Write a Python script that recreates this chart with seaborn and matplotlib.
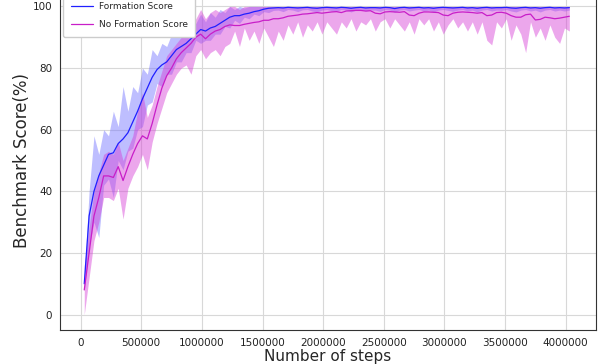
import numpy as np
import pandas as pd
import matplotlib
matplotlib.use('Agg')
import matplotlib.pyplot as plt
import seaborn as sns

# training steps (every 40000 steps)
steps = list(range(30000, 4030001, 40000))

# Formation Score: mean and band
form_mean = [10, 32, 40, 45, 48.5, 52, 52.5, 55.5, 57, 59,
             62.5, 66, 70, 73.5, 77, 79.5, 81, 82, 84, 86,
             87, 88, 89.5, 91, 92.5, 92, 93, 93.5, 94.5, 95.5,
             96.5, 97, 97, 97.5, 97.8, 98.3, 98.6, 99.1, 99.4, 99.5,
             99.6, 99.5, 99.7, 99.6, 99.5, 99.6, 99.7, 99.5, 99.4, 99.6,
             99.7, 99.6, 99.5, 99.7, 99.6, 99.4, 99.6, 99.7, 99.5, 99.6,
             99.6, 99.5, 99.7, 99.6, 99.3, 99.6, 99.7, 99.5, 99.6, 99.7,
             99.5, 99.6, 99.4, 99.6, 99.7, 99.6, 99.5, 99.6, 99.7, 99.5,
             99.6, 99.4, 99.6, 99.7, 99.5, 99.6, 99.6, 99.7, 99.5, 99.4,
             99.6, 99.7, 99.5, 99.6, 99.4, 99.6, 99.7, 99.5, 99.6, 99.5,
             99.6]
form_lo = [8, 22, 30, 25, 42, 44, 38, 50, 47, 53,
           54, 60, 61, 68, 69, 75, 74, 78, 78, 82,
           82, 85, 85, 89, 88, 89, 89, 91, 91, 93.5,
           93, 95.5, 94.5, 96.5, 96, 97.5, 97, 98.3, 98, 98.7,
           98.8, 98.3, 99, 98.8, 98.3, 98.9, 99, 98.5, 98.2, 98.8,
           99, 98.6, 98.4, 99, 98.8, 98.2, 98.8, 99, 98.5, 98.8,
           98.8, 98.4, 99, 98.8, 98.1, 98.8, 99, 98.5, 98.8, 99,
           98.5, 98.8, 98.2, 98.8, 99, 98.7, 98.4, 98.8, 99, 98.5,
           98.8, 98.2, 98.8, 99, 98.5, 98.8, 98.7, 99, 98.5, 98.2,
           98.8, 99, 98.5, 98.8, 98.2, 98.8, 99, 98.5, 98.8, 98.5,
           98.8]
form_hi = [12, 40, 58, 52, 60, 58, 66, 61, 74, 66,
           74, 72, 80, 78, 86, 84, 88, 87, 91, 90,
           93, 92, 95, 94.5, 97.5, 95, 98, 96.5, 99, 98,
           100, 99, 100, 99.5, 100, 100, 100, 100, 100, 100,
           100, 100, 100, 100, 100, 100, 100, 100, 100, 100,
           100, 100, 100, 100, 100, 100, 100, 100, 100, 100,
           100, 100, 100, 100, 100, 100, 100, 100, 100, 100,
           100, 100, 100, 100, 100, 100, 100, 100, 100, 100,
           100, 100, 100, 100, 100, 100, 100, 100, 100, 100,
           100, 100, 100, 100, 100, 100, 100, 100, 100, 100,
           100]

# No Formation Score: mean and band
noform_mean = [8, 20, 32, 38, 45, 45, 44.5, 48, 43.5, 48,
               52, 55.5, 58, 57, 62, 68, 73.5, 77.5, 80, 83,
               85, 86.5, 88, 90, 91, 89.5, 91, 92, 92.5, 93.5,
               94, 93.8, 93.8, 94.2, 94.5, 94.8, 95, 95.5, 95.5, 96,
               96, 96.3, 96.8, 97, 97.2, 97.5, 97.6, 97.8, 98, 97.8,
               98, 98.2, 98.3, 98, 98.5, 98.6, 98.7, 98.7, 98.5, 98.6,
               97.8, 97.6, 98.2, 98.3, 98.2, 98.1, 98.3, 97.2, 97, 97.8,
               98.2, 98.2, 98.1, 98, 97.2, 97, 97.8, 98.1, 98.2, 98.1,
               98, 97.8, 98, 97, 97.2, 98, 98.1, 97.8, 97, 96.5,
               96.5, 97.3, 97.5, 95.6, 95.8, 96.5, 96.3, 96, 96.2, 96.5,
               96.8]
noform_lo = [0, 12, 24, 30, 38, 38, 37, 41, 31, 41,
             45, 48, 52, 47, 56, 62, 67, 72, 75, 78,
             80, 81, 78, 84, 86, 83, 85, 86, 84, 87,
             88, 92, 87, 93, 89, 92, 88, 93, 90, 87,
             92, 89, 94, 91, 95, 90, 94, 92, 95, 91,
             95, 93, 91, 95, 93, 96, 92, 95, 94, 96,
             92, 95, 96, 93, 96, 94, 92, 95, 91, 96,
             94, 96, 92, 95, 91, 94, 96, 93, 95, 92,
             95, 91, 95, 89, 87.5, 95, 93, 96, 89, 94,
             91, 85, 95, 90, 93, 89, 94, 90, 88, 93,
             92]
noform_hi = [16, 28, 40, 46, 52, 53, 52, 56, 50, 54,
             58, 66, 72, 64, 68, 74, 79, 84, 86, 88,
             90, 92, 94, 96, 99, 96, 98, 99, 98, 99,
             100, 100, 99, 100, 100, 100, 100, 100, 100, 100,
             100, 100, 100, 100, 100, 100, 100, 100, 100, 100,
             100, 100, 100, 100, 100, 100, 100, 100, 100, 100,
             100, 100, 100, 100, 100, 100, 100, 100, 100, 100,
             100, 100, 100, 100, 100, 100, 100, 100, 100, 100,
             100, 100, 100, 100, 100, 100, 100, 100, 100, 100,
             100, 100, 100, 100, 100, 100, 100, 100, 100, 100,
             100]

df = pd.DataFrame({
    'step': steps * 2,
    'score': form_mean + noform_mean,
    'run': ['Formation Score'] * len(steps) + ['No Formation Score'] * len(steps),
})

sns.set_style('whitegrid')
plt.rcParams['font.family'] = ['DejaVu Sans']

fig = plt.figure(figsize=(5.98, 3.64), dpi=100)
# axes top runs past the figure edge, as in the cropped original
ax = fig.add_axes([60 / 598, 34 / 364, 536 / 598, 339 / 364])

blue = '#2020ff'
mag = '#c81ec8'
ax.fill_between(steps, form_lo, form_hi, color='#7070ff', alpha=0.45, lw=0)
ax.fill_between(steps, noform_lo, noform_hi, color='#d63cd6', alpha=0.45, lw=0)
sns.lineplot(data=df, x='step', y='score', hue='run', palette=[blue, mag],
             linewidth=0.9, ax=ax)

ax.set_xlim(-170000, 4250000)
ax.set_ylim(-5, 105)
ax.set_xticks([0, 500000, 1000000, 1500000, 2000000, 2500000, 3000000, 3500000, 4000000])
ax.set_xticklabels(['0', '500000', '1000000', '1500000', '2000000', '2500000',
                    '3000000', '3500000', '4000000'])
ax.set_yticks([0, 20, 40, 60, 80, 100])
ax.tick_params(labelsize=7.5, pad=2, colors='#222222')
ax.set_xlabel('Number of steps', fontsize=11, labelpad=1)
ax.set_ylabel('Benchmark Score(%)', fontsize=12, labelpad=1)
for side in ['left', 'bottom', 'right']:
    ax.spines[side].set_color('#333333')
    ax.spines[side].set_linewidth(0.8)
ax.grid(color='#d8d8d8', linewidth=0.8)

ax.legend(loc='upper left', fontsize=6.5, title=None, frameon=True, framealpha=1,
          handlelength=2.4, handletextpad=0.7, labelspacing=1.05,
          borderpad=0.85, borderaxespad=0.35)

fig.savefig('out.png', dpi=100)
